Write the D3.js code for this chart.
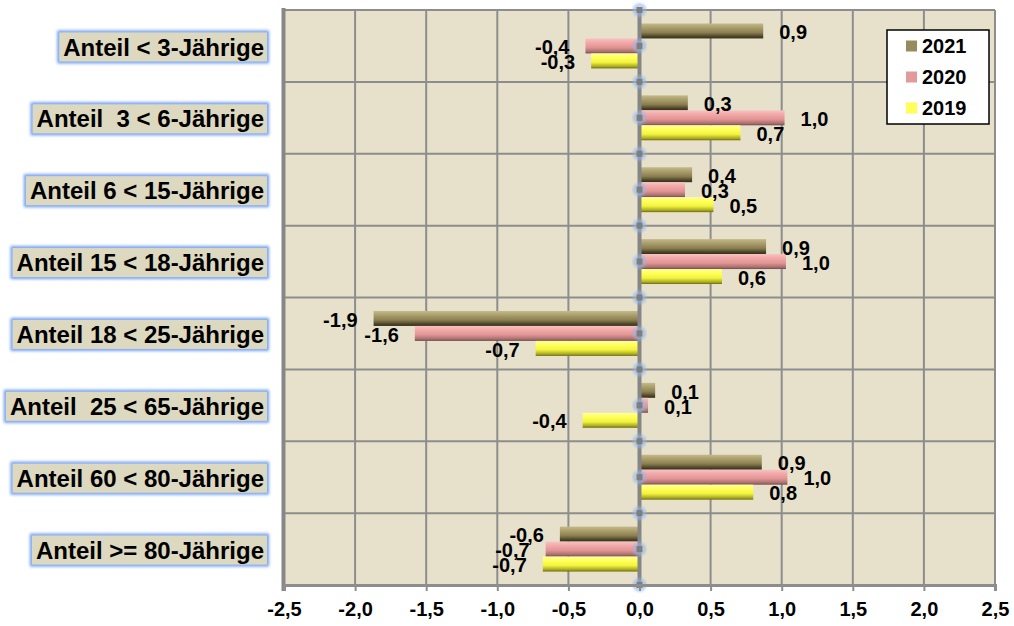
<!DOCTYPE html>
<html>
<head>
<meta charset="utf-8">
<script src="https://cdn.jsdelivr.net/npm/d3@7"></script>
<style>
  html, body { margin: 0; padding: 0; background: #ffffff; }
  svg { display: block; font-family: "Liberation Sans", Arial, sans-serif; }
</style>
</head>
<body>
<svg id="chart" width="1014" height="626"></svg>
<script>
// Veränderung der Altersanteile (Prozentpunkte) je Jahr
const categories = [
  "Anteil < 3-Jährige",
  "Anteil  3 < 6-Jährige",
  "Anteil 6 < 15-Jährige",
  "Anteil 15 < 18-Jährige",
  "Anteil 18 < 25-Jährige",
  "Anteil  25 < 65-Jährige",
  "Anteil 60 < 80-Jährige",
  "Anteil >= 80-Jährige"
];
const years = ["2021", "2020", "2019"];
const values2021 = [0.87, 0.34, 0.37, 0.89, -1.87, 0.11, 0.86, -0.56];
const values2020 = [-0.38, 1.02, 0.32, 1.03, -1.58, 0.06, 1.04, -0.66];
const values2019 = [-0.34, 0.71, 0.52, 0.58, -0.73, -0.40, 0.80, -0.68];
const tickValues = [-2.5, -2.0, -1.5, -1.0, -0.5, 0.0, 0.5, 1.0, 1.5, 2.0, 2.5];

const seriesValues = { "2021": values2021, "2020": values2020, "2019": values2019 };

const locale = d3.formatLocale({ decimal: ",", thousands: ".", grouping: [3], currency: ["", " €"], minus: "-" });
const fmt = locale.format(".1f");

const svg = d3.select("#chart");
const plot = { left: 284, right: 995, top: 10, bottom: 585 };

const x = d3.scaleLinear().domain([-2.5, 2.5]).range([plot.left, plot.right]);
const y = d3.scaleBand().domain(categories).range([plot.top, plot.bottom]);
const yInner = d3.scaleBand().domain(years).range([0, y.bandwidth()]).paddingOuter(0.9);

// gradients giving the bars a rounded, shaded look
const defs = svg.append("defs");
const shades = {
  "2021": ["#c4b98a", "#a89c6a", "#8c8052", "#4a4226", "#35301a"],
  "2020": ["#f7c2c2", "#f2a6a6", "#e29494", "#a86e6e", "#6e4c4c"],
  "2019": ["#ffff9a", "#ffff55", "#f2f240", "#a8a820", "#6a6a10"]
};
years.forEach(yr => {
  const g = defs.append("linearGradient").attr("id", "grad" + yr)
    .attr("x1", 0).attr("y1", 0).attr("x2", 0).attr("y2", 1);
  const s = shades[yr];
  [[0, s[0]], [0.3, s[1]], [0.6, s[2]], [0.88, s[3]], [1, s[4]]].forEach(([o, c]) =>
    g.append("stop").attr("offset", o).attr("stop-color", c));
});
const legendColors = { "2021": "#968b5c", "2020": "#e29a9a", "2019": "#ffff55" };

const glow = defs.append("filter").attr("id", "glow")
  .attr("x", "-20%").attr("y", "-40%").attr("width", "140%").attr("height", "180%");
glow.append("feGaussianBlur").attr("stdDeviation", 1.4);

// plot background
svg.append("rect")
  .attr("x", plot.left).attr("y", plot.top)
  .attr("width", plot.right - plot.left).attr("height", plot.bottom - plot.top)
  .attr("fill", "#e7e1cc");

// vertical grid lines
svg.append("g").selectAll("line").data(tickValues).join("line")
  .attr("x1", d => x(d)).attr("x2", d => x(d))
  .attr("y1", plot.top).attr("y2", plot.bottom)
  .attr("stroke", "#8d8d8d").attr("stroke-width", 2);

// horizontal grid lines at category boundaries
const bounds = categories.map(c => y(c)).concat([plot.bottom]);
svg.append("g").selectAll("line").data(bounds).join("line")
  .attr("x1", plot.left).attr("x2", plot.right)
  .attr("y1", d => d).attr("y2", d => d)
  .attr("stroke", "#8d8d8d").attr("stroke-width", 2);

// left wall
svg.append("line")
  .attr("x1", plot.left - 0.5).attr("x2", plot.left - 0.5)
  .attr("y1", plot.top - 2).attr("y2", plot.bottom + 6)
  .attr("stroke", "#878787").attr("stroke-width", 4);

// bars
const rows = svg.append("g").selectAll("g").data(categories).join("g")
  .attr("transform", d => `translate(0,${y(d)})`);

rows.each(function(cat, i) {
  const g = d3.select(this);
  years.forEach(yr => {
    const v = seriesValues[yr][i];
    g.append("rect")
      .attr("x", Math.min(x(0), x(v)))
      .attr("y", yInner(yr))
      .attr("width", Math.abs(x(v) - x(0)))
      .attr("height", yInner.bandwidth())
      .attr("fill", `url(#grad${yr})`);
  });
});

// zero line with category tick markers
svg.append("line")
  .attr("x1", x(0)).attr("x2", x(0))
  .attr("y1", plot.top).attr("y2", plot.bottom)
  .attr("stroke", "#868686").attr("stroke-width", 4);
const markerYs = bounds.concat(categories.map(c => y(c) + y.bandwidth() / 2));
const markers = svg.append("g");
markers.selectAll("circle").data(markerYs).join("circle")
  .attr("cx", x(0)).attr("cy", d => d).attr("r", 5)
  .attr("fill", "none").attr("stroke", "#8fb6ec").attr("stroke-width", 2.5)
  .attr("filter", "url(#glow)");
markers.selectAll("rect").data(markerYs).join("rect")
  .attr("x", x(0) - 3).attr("y", d => d - 3).attr("width", 6).attr("height", 6)
  .attr("fill", "#7e7e7e");

// bottom axis
const axis = d3.axisBottom(x).tickValues(tickValues).tickFormat(fmt).tickSize(6).tickPadding(11);
const ax = svg.append("g").attr("transform", `translate(0,${plot.bottom})`).call(axis);
ax.select(".domain").attr("stroke", "#8d8d8d").attr("stroke-width", 3);
ax.selectAll(".tick line").attr("stroke", "#8d8d8d").attr("stroke-width", 2);
ax.selectAll(".tick text").attr("font-size", 20).attr("font-weight", "bold").attr("fill", "#000")
  .attr("font-family", "Liberation Sans, Arial, sans-serif");

// data labels
rows.each(function(cat, i) {
  const g = d3.select(this);
  years.forEach(yr => {
    const v = seriesValues[yr][i];
    g.append("text")
      .attr("x", v >= 0 ? x(v) + 16 : x(v) - 16)
      .attr("y", yInner(yr) + yInner.bandwidth() / 2 + 1)
      .attr("dy", "0.36em")
      .attr("text-anchor", v >= 0 ? "start" : "end")
      .attr("font-size", 20).attr("font-weight", "bold").attr("fill", "#000")
      .text(fmt(v));
  });
});

// category labels in framed boxes
const labels = svg.append("g").selectAll("g").data(categories).join("g")
  .attr("transform", d => `translate(0,${y(d) + y.bandwidth() / 2 + 1})`);
labels.each(function(cat) {
  const g = d3.select(this);
  const t = g.append("text")
    .attr("x", 264).attr("dy", "0.36em")
    .attr("text-anchor", "end")
    .attr("font-size", 24).attr("font-weight", "bold").attr("fill", "#000")
    .style("white-space", "pre")
    .text(cat);
  const w = t.node().getComputedTextLength();
  g.insert("rect", "text")
    .attr("x", 264 - w - 4).attr("y", -14.5).attr("width", w + 7).attr("height", 29)
    .attr("fill", "none").attr("stroke", "#6f9ff0").attr("stroke-width", 4)
    .attr("filter", "url(#glow)");
  g.insert("rect", "text")
    .attr("x", 264 - w - 4).attr("y", -14.5).attr("width", w + 7).attr("height", 29)
    .attr("fill", "#ddd8c0");
});

// legend
const legend = svg.append("g").attr("transform", "translate(887,30)");
legend.append("rect").attr("width", 102).attr("height", 94)
  .attr("fill", "#fff").attr("stroke", "#000").attr("stroke-width", 1.5);
const items = legend.selectAll("g").data(years).join("g")
  .attr("transform", (d, i) => `translate(0,${16 + i * 31})`);
items.append("rect").attr("x", 19).attr("y", -5.5).attr("width", 11).attr("height", 11)
  .attr("fill", d => legendColors[d]);
items.append("text").attr("x", 35).attr("dy", "0.36em")
  .attr("font-size", 20).attr("font-weight", "bold").attr("fill", "#000")
  .text(d => d);
</script>
</body>
</html>
